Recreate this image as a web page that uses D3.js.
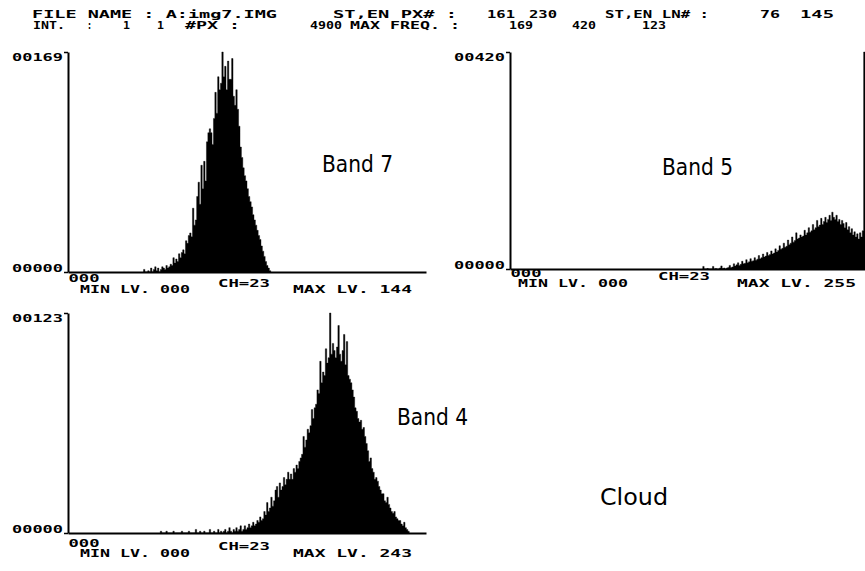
<!DOCTYPE html>
<html><head><meta charset="utf-8">
<script src="https://cdn.jsdelivr.net/npm/d3@7"></script>
<style>body{margin:0;background:#fff}svg{display:block}</style>
</head><body>
<svg id="c" width="865" height="571"></svg>
<script>
// ---------- header texts ----------
const headerLine1 = ["FILE NAME : A:img7.IMG", "ST,EN PX# :", "161", "230", "ST,EN LN# :", "76", "145"];
const headerLine2 = ["INT.", ":", "1", "1", "#PX :", "4900", "MAX FREQ. :", "169", "420", "123"];

// ---------- histogram data (grey level -> pixel count) ----------
const bandNames = ["Band 7", "Band 5", "Band 4"];
const maxFreq = [169, 420, 123];
const minLevel = ["000", "000", "000"];
const maxLevel = ["144", "255", "243"];
const channelLabel = "CH=23";
const noteLabel = "Cloud";

const band7Start = 54;
const band7Counts = [
  2,0,0,1,0,3,0,2,4,1,            // 54-63
  3,0,2,4,3,2,5,3,4,6,            // 64-73
  5,11,7,10,8,14,11,15,17,14,     // 74-83
  24,22,28,30,27,49,36,40,58,69,  // 84-93
  52,82,64,85,70,100,107,110,107,98, // 94-103
  118,138,122,150,140,145,169,150,158,140, // 104-113
  162,148,148,164,135,128,140,125,112,96,  // 114-123
  88,80,74,70,64,58,54,50,44,40,  // 124-133
  36,32,28,25,20,16,12,8,5,3,     // 134-143
  1                               // 144
];

const band5Start = 139;
const band5Counts = [
  5,0,0,1,0,0,0,5,0,1,            // 139-148
  0,0,2,6,1,2,0,2,3,7,            // 149-158
  3,4,10,6,8,12,7,9,15,10,        // 159-168
  11,18,12,14,20,15,16,22,17,19,  // 169-178
  26,20,22,29,23,25,32,26,28,35,  // 179-188
  29,31,39,33,36,45,38,40,50,42,  // 189-198
  44,56,47,50,62,52,55,70,58,60,  // 199-208
  66,62,64,75,66,70,80,71,74,86,  // 209-218
  76,80,94,82,85,98,86,92,100,90, // 219-228
  96,104,94,110,100,96,104,92,96,86, // 229-238
  94,88,80,90,76,82,70,78,66,72,  // 239-248
  62,68,58,70,62,74,420           // 249-255
];

const band4Start = 66;
const band4Counts = [
  1,0,0,0,1,0,0,0,0,1,            // 66-75
  0,0,0,0,0,1,0,0,0,0,            // 76-85
  1,0,0,0,0,2,0,0,1,0,            // 86-95
  0,1,0,0,0,2,0,0,1,0,            // 96-105
  0,2,0,1,0,1,2,0,1,3,            // 106-115
  1,0,2,1,3,1,2,4,1,2,            // 116-125
  4,2,3,5,3,4,6,4,5,7,            // 126-135
  6,9,7,8,12,10,17,12,14,20,      // 136-145
  15,18,24,26,20,28,24,26,31,27,  // 146-155
  30,34,30,33,30,36,34,38,36,40,  // 156-165
  42,44,54,48,52,58,56,60,69,64,  // 166-175
  70,72,80,78,96,84,90,88,103,95, // 176-185
  98,123,100,106,102,98,104,116,100,96, // 186-195
  102,111,94,107,88,86,84,80,76,70,     // 196-205
  68,64,62,63,58,59,54,50,46,40,  // 206-215
  42,36,34,30,31,29,26,24,22,22,  // 216-225
  18,17,20,16,14,12,11,12,9,8,    // 226-235
  7,7,5,4,6,3,2,1                 // 236-243
];

// ---------- drawing ----------
const svg = d3.select("#c");
const MONO = "'DejaVu Sans Mono', 'Liberation Mono', monospace";
const SANS = "'DejaVu Sans Condensed', 'DejaVu Sans', sans-serif";

function monoText(str, x, y, w) {
  const t = svg.append("text").attr("x", x).attr("y", y)
    .attr("font-family", MONO).attr("font-weight", "bold").attr("font-size", 10.5)
    .attr("fill", "#000").text(str);
  if (w) t.attr("textLength", w).attr("lengthAdjust", "spacingAndGlyphs");
  return t;
}

// header
const h1x = [32, 333, 487, 529, 605, 760, 800];
const h1w = [245, 124, 28, 28, 104, 20, 34];
headerLine1.forEach((s, i) => monoText(s, h1x[i], 18, h1w[i]));
const h2x = [33, 87, 123, 157, 185, 310, 350, 509, 572, 642];
const h2w = [32, 5, 7, 7, 55, 32, 110, 24, 24, 24];
headerLine2.forEach((s, i) => monoText(s, h2x[i], 29, h2w[i]));

const panels = [
  {start: band7Start, counts: band7Counts, max: maxFreq[0], x0: 68, x1: 426, top: 52, base: 272,
   bandPos: [322, 172], minPos: [80, 293], chPos: [218, 287], maxPos: [293, 293], zeroDy: 10},
  {start: band5Start, counts: band5Counts, max: maxFreq[1], x0: 510, x1: 865, top: 52, base: 269,
   bandPos: [662, 175], minPos: [518, 287], chPos: [658, 280], maxPos: [737, 287], zeroDy: 8},
  {start: band4Start, counts: band4Counts, max: maxFreq[2], x0: 68, x1: 426, top: 313, base: 533,
   bandPos: [397, 425], minPos: [80, 557], chPos: [218, 550], maxPos: [293, 557], zeroDy: 14}
];

panels.forEach((p, i) => {
  const x = d3.scaleLinear().domain([0, 256]).range([p.x0, p.x1]);
  const y = d3.scaleLinear().domain([0, p.max]).range([p.base, p.top]);
  const data = p.counts.map((c, k) => ({l: p.start + k, c}));
  data.push({l: p.start + p.counts.length, c: 0});
  const g = svg.append("g");
  const area = d3.area().curve(d3.curveStepAfter)
    .x(d => x(d.l)).y0(p.base).y1(d => y(d.c));
  g.append("path").datum(data).attr("d", area).attr("fill", "#000")
    .attr("stroke", "#000").attr("stroke-width", 0.4);

  // left axis
  const ay = g.append("g").attr("transform", `translate(${p.x0},0)`)
    .call(d3.axisLeft(y).tickValues([0, p.max]).tickSize(4).tickSizeOuter(0).tickPadding(1)
      .tickFormat(d3.format("05d")));
  ay.select(".domain").attr("stroke", "#000").attr("stroke-width", 2);
  ay.selectAll(".tick line").attr("stroke", "#000").attr("stroke-width", 1.5);
  ay.selectAll(".tick text")
    .attr("font-family", MONO).attr("font-weight", "bold").attr("font-size", 10.5)
    .attr("fill", "#000").attr("dy", d => d === 0 ? -1 : 8)
    .attr("textLength", 51).attr("lengthAdjust", "spacingAndGlyphs");

  // bottom axis
  const ax = g.append("g").attr("transform", `translate(0,${p.base})`)
    .call(d3.axisBottom(x).tickValues([0]).tickSize(0).tickSizeOuter(0).tickPadding(0)
      .tickFormat(() => minLevel[i]));
  ax.select(".domain").attr("stroke", "#000").attr("stroke-width", 2);
  ax.selectAll(".tick text")
    .attr("font-family", MONO).attr("font-weight", "bold").attr("font-size", 10.5)
    .attr("fill", "#000").attr("text-anchor", "start").attr("y", 0).attr("dy", p.zeroDy)
    .attr("textLength", 31).attr("lengthAdjust", "spacingAndGlyphs");

  monoText("MIN LV. " + minLevel[i], p.minPos[0], p.minPos[1], 110);
  monoText(channelLabel, p.chPos[0], p.chPos[1], 52);
  monoText("MAX LV. " + maxLevel[i], p.maxPos[0], p.maxPos[1], 119);

  svg.append("text").attr("x", p.bandPos[0]).attr("y", p.bandPos[1])
    .attr("font-family", SANS).attr("font-size", 23).attr("fill", "#000")
    .attr("textLength", 71).attr("lengthAdjust", "spacingAndGlyphs")
    .text(bandNames[i]);
});

svg.append("text").attr("x", 600).attr("y", 505)
  .attr("font-family", SANS).attr("font-size", 23).attr("fill", "#000")
  .attr("textLength", 68).attr("lengthAdjust", "spacingAndGlyphs")
  .text(noteLabel);
</script>
</body></html>
